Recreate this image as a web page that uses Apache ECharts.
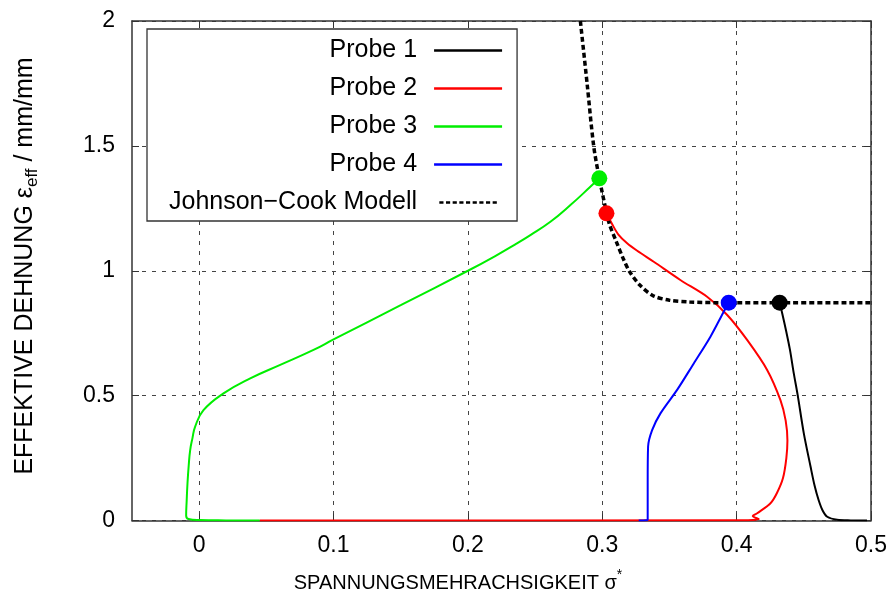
<!DOCTYPE html>
<html>
<head>
<meta charset="utf-8">
<script src="https://cdn.jsdelivr.net/npm/echarts@6/dist/echarts.min.js"></script>
<style>
  html, body { margin: 0; padding: 0; background: #fff; }
  #main { width: 893px; height: 595px; }
</style>
</head>
<body>
<div id="main"></div>
<script>
// Achsen
var xTicks = [0, 0.1, 0.2, 0.3, 0.4, 0.5];
var yTicks = [0, 0.5, 1, 1.5, 2];

// Messkurven [sigma*, eps_eff], letzter Punkt = Bruch
var probe1 = [[0.497, 0], [0.485, 0.0005], [0.4748, 0.003], [0.4674, 0.015], [0.464, 0.04], [0.461, 0.082],
    [0.458, 0.14], [0.455, 0.216], [0.450, 0.349], [0.4455, 0.5], [0.4425, 0.59], [0.4397, 0.683],
    [0.4368, 0.76], [0.4339, 0.83], [0.432, 0.872]];
var probe2 = [[0.045, 0], [0.405, 0.001], [0.4165, 0.006], [0.412, 0.018], [0.4153, 0.029], [0.4252, 0.069],
    [0.4300, 0.11], [0.4345, 0.17], [0.4370, 0.25], [0.4378, 0.32], [0.4365, 0.40], [0.4326, 0.482],
    [0.4227, 0.603], [0.4078, 0.723], [0.393, 0.823], [0.378, 0.896], [0.3581, 0.963], [0.3383, 1.036],
    [0.3260, 1.080], [0.3185, 1.110], [0.3120, 1.145], [0.3075, 1.185], [0.3031, 1.230]];
var probe3 = [[0.045, 0], [0.02, 0.0005], [0.0, 0.002], [-0.008, 0.006], [-0.0097, 0.02], [-0.0093, 0.08],
    [-0.0087, 0.149], [-0.0078, 0.22], [-0.0067, 0.282], [-0.005, 0.33], [-0.003, 0.376], [0.0032, 0.442],
    [0.0181, 0.509], [0.038, 0.569], [0.0603, 0.623], [0.0851, 0.683], [0.1, 0.725], [0.15, 0.862],
    [0.2, 1.0], [0.22, 1.058], [0.235, 1.105], [0.2465, 1.143], [0.2614, 1.196], [0.2763, 1.263],
    [0.2911, 1.336], [0.2978, 1.370]];
var probe4 = [[0.3271, 0], [0.3338, 0.002], [0.3338, 0.149], [0.3341, 0.296], [0.3371, 0.362], [0.3433, 0.429],
    [0.3557, 0.523], [0.3681, 0.629], [0.3805, 0.736], [0.3904, 0.836], [0.3941, 0.872]];
var johnsonCook = [[0.2837, 2.0], [0.2887, 1.75], [0.2936, 1.5], [0.2978, 1.37], [0.3033, 1.23], [0.3055, 1.183],
    [0.3105, 1.116], [0.3155, 1.05], [0.3204, 0.996], [0.3279, 0.943], [0.3378, 0.90], [0.350, 0.882],
    [0.365, 0.875], [0.39, 0.872], [0.43, 0.872], [0.5, 0.872]];

var names = ['Probe 1', 'Probe 2', 'Probe 3', 'Probe 4', 'Johnson\u2212Cook Modell'];
var colors = ['#000000', '#ff0000', '#00ee00', '#0000ff', '#000000'];
var smoothing = [0.3, 0.3, 0.45, 0.3];

var FONT = '"Liberation Sans", Arial, Helvetica, sans-serif';
var frame = { show: true, onZero: false, lineStyle: { color: '#333', width: 1.5 } };
var grid = { show: true, lineStyle: { color: '#444', width: 1, type: [4, 6] } };

var myChart = echarts.init(document.getElementById('main'));

function lineSeries(i, data) {
    return {
        name: names[i],
        type: 'line',
        data: data,
        showSymbol: false,
        smooth: smoothing[i],
        color: colors[i],
        lineStyle: { color: colors[i], width: 2 },
        z: 2
    };
}

var brueche = [probe1, probe2, probe3, probe4].map(function (p, i) {
    return { value: p[p.length - 1], itemStyle: { color: colors[i] } };
});

var dashIcon = 'path://M0,0h5v3h-5z M8,0h5v3h-5z M16,0h5v3h-5z M24,0h5v3h-5z M32,0h5v3h-5z ' +
    'M40,0h5v3h-5z M48,0h5v3h-5z M56,0h5v3h-5z M64,0h5v3h-5z';

var option = {
    animation: false,
    backgroundColor: '#fff',
    textStyle: { fontFamily: FONT },
    grid: { left: 132, right: 22, top: 21, bottom: 74.5 },
    legend: {
        orient: 'vertical',
        align: 'right',
        left: 147,
        top: 29,
        padding: [9, 15, 6, 22],
        itemWidth: 68,
        itemHeight: 2.5,
        itemGap: 13,
        borderColor: '#333',
        borderWidth: 1.3,
        backgroundColor: '#fff',
        itemStyle: { borderWidth: 0 },
        textStyle: { fontFamily: FONT, fontSize: 25, color: '#000', lineHeight: 24, padding: [0, 12, 0, 0] },
        data: [
            { name: names[0], icon: 'rect' },
            { name: names[1], icon: 'rect' },
            { name: names[2], icon: 'rect' },
            { name: names[3], icon: 'rect' },
            { name: names[4], icon: dashIcon }
        ]
    },
    xAxis: [{
        type: 'value', min: -0.05, max: 0.5, position: 'bottom',
        axisLine: frame,
        axisTick: { show: true, inside: true, length: 7, customValues: xTicks, lineStyle: { color: '#333' } },
        axisLabel: { customValues: xTicks, color: '#000', fontSize: 23, fontFamily: FONT, margin: 14 },
        splitLine: grid
    }, {
        type: 'value', min: -0.05, max: 0.5, position: 'top',
        axisLine: frame,
        axisTick: { show: true, inside: true, length: 7, customValues: xTicks, lineStyle: { color: '#333' } },
        axisLabel: { show: false },
        splitLine: { show: false }
    }],
    yAxis: [{
        type: 'value', min: 0, max: 2, interval: 0.5, position: 'left',
        axisLine: frame,
        axisTick: { show: true, inside: true, length: 7, lineStyle: { color: '#333' } },
        axisLabel: { color: '#000', fontSize: 23, fontFamily: FONT, margin: 17 },
        splitLine: grid
    }, {
        type: 'value', min: 0, max: 2, interval: 0.5, position: 'right',
        axisLine: frame,
        axisTick: { show: true, inside: true, length: 7, lineStyle: { color: '#333' } },
        axisLabel: { show: false },
        splitLine: { show: false }
    }],
    graphic: [{
        type: 'text',
        x: 458, y: 583,
        style: {
            text: 'SPANNUNGSMEHRACHSIGKEIT {g|\u03c3}{s|*}',
            align: 'center', verticalAlign: 'middle',
            font: '20px ' + FONT, fill: '#000',
            rich: {
                g: { fontSize: 20, fontFamily: FONT, lineHeight: 30 },
                s: { fontSize: 14, fontFamily: FONT, verticalAlign: 'top', lineHeight: 14 }
            }
        }
    }, {
        type: 'text',
        x: 25, y: 266,
        rotation: Math.PI / 2,
        style: {
            text: 'EFFEKTIVE DEHNUNG {g|\u03b5}{sub|eff} / mm/mm',
            align: 'center', verticalAlign: 'middle',
            font: '25px ' + FONT, fill: '#000',
            rich: {
                g: { fontSize: 25, fontFamily: FONT, lineHeight: 32 },
                sub: { fontSize: 17, fontFamily: FONT, verticalAlign: 'bottom', lineHeight: 16 }
            }
        }
    }],
    series: [
        lineSeries(0, probe1),
        lineSeries(1, probe2),
        lineSeries(2, probe3),
        lineSeries(3, probe4),
        {
            name: names[4],
            type: 'line',
            data: johnsonCook,
            showSymbol: false,
            smooth: 0.3,
            color: '#000',
            lineStyle: { color: '#000', width: 3.5, type: [5, 3] },
            z: 3
        },
        {
            name: 'Bruch',
            type: 'scatter',
            data: brueche,
            symbolSize: 16,
            itemStyle: { opacity: 1 },
            z: 5
        }
    ]
};

myChart.setOption(option);
</script>
</body>
</html>
